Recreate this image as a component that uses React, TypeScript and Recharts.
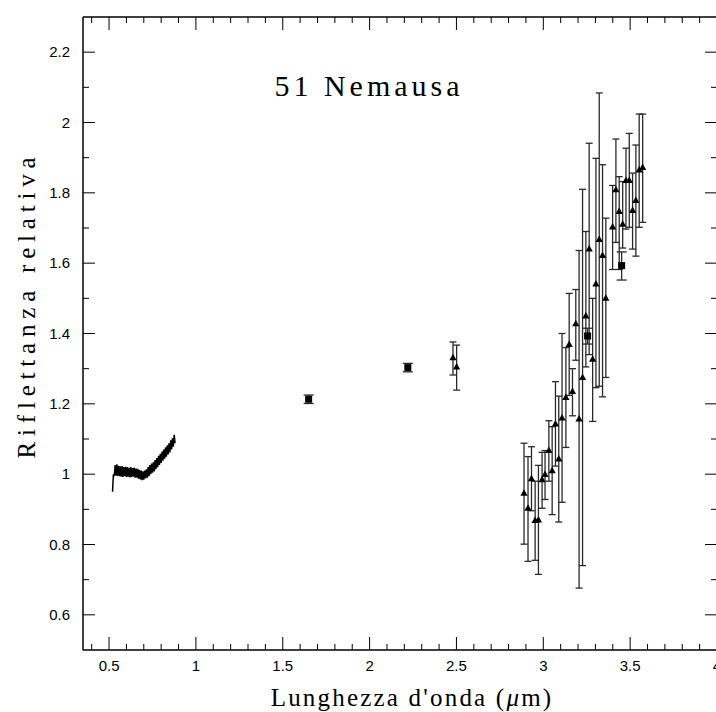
import React from "react";
import { ComposedChart, ErrorBar, Line, Scatter, XAxis, YAxis } from "recharts";

// visible spectrum (noisy trace)
const SPEC_X = [
  0.52, 0.525, 0.53, 0.535, 0.54, 0.545, 0.55, 0.555, 0.56, 0.565, 0.57, 0.575, 0.58, 0.585, 0.59, 0.595,
  0.6, 0.605, 0.61, 0.615, 0.62, 0.625, 0.63, 0.635, 0.64, 0.645, 0.65, 0.655, 0.66, 0.665, 0.67, 0.675,
  0.68, 0.685, 0.69, 0.695, 0.7, 0.705, 0.71, 0.715, 0.72, 0.725, 0.73, 0.735, 0.74, 0.745, 0.75, 0.755,
  0.76, 0.765, 0.77, 0.775, 0.78, 0.785, 0.79, 0.795, 0.8, 0.805, 0.81, 0.815, 0.82, 0.825, 0.83, 0.835,
  0.84, 0.845, 0.85, 0.855, 0.86, 0.865, 0.87, 0.875, 0.88,
];
const SPEC_Y = [
  0.95, 1.0, 0.994, 1.026, 0.996, 1.028, 0.995, 1.024, 0.994, 1.022, 0.993, 1.023, 0.992, 1.02, 0.994, 1.021,
  0.992, 1.02, 0.993, 1.018, 0.991, 1.02, 0.992, 1.017, 0.993, 1.018, 0.99, 1.016, 0.99, 1.015, 0.987, 1.012,
  0.985, 1.01, 0.983, 1.008, 0.984, 1.01, 0.988, 1.014, 0.99, 1.02, 0.994, 1.026, 1.0, 1.03, 1.004, 1.034,
  1.008, 1.04, 1.014, 1.046, 1.02, 1.052, 1.026, 1.058, 1.032, 1.064, 1.038, 1.07, 1.044, 1.076, 1.05, 1.082,
  1.056, 1.088, 1.062, 1.096, 1.07, 1.102, 1.078, 1.112, 1.088,
];

// triangles with error bars
const TRI_X = [
  2.48, 2.501, 2.889, 2.912, 2.932, 2.953, 2.972, 2.993, 3.01, 3.032, 3.051, 3.07, 3.089, 3.108, 3.13,
  3.149, 3.168, 3.187, 3.206, 3.226, 3.245, 3.264, 3.284, 3.303, 3.322, 3.341, 3.36, 3.399, 3.418, 3.437,
  3.457, 3.476, 3.495, 3.514, 3.533, 3.552, 3.572,
];
const TRI_Y = [
  1.331, 1.305, 0.946, 0.903, 0.987, 0.868, 0.87, 0.984, 0.999, 1.067, 1.01, 1.143, 1.043, 1.16, 1.218,
  1.369, 1.235, 1.428, 1.157, 1.275, 1.45, 1.64, 1.327, 1.541, 1.667, 1.622, 1.5, 1.703, 1.809, 1.747,
  1.711, 1.835, 1.835, 1.75, 1.778, 1.865, 1.872,
];
const TRI_LO = [
  1.282, 1.239, 0.801, 0.752, 0.896, 0.755, 0.715, 0.903, 0.928, 0.98, 0.885, 1.023, 0.864, 0.92, 1.076,
  1.224, 1.166, 1.324, 0.676, 0.74, 1.305, 1.34, 1.15, 1.246, 1.25, 1.22, 1.275, 1.582, 1.659, 1.582,
  1.643, 1.697, 1.702, 1.64, 1.62, 1.702, 1.716,
];
const TRI_HI = [
  1.376, 1.367, 1.088, 1.05, 1.078, 0.98, 1.025, 1.062, 1.067, 1.152, 1.135, 1.263, 1.222, 1.4, 1.36,
  1.514, 1.3, 1.525, 1.636, 1.81, 1.69, 1.941, 1.5, 1.898, 2.084, 1.88, 1.728, 1.821, 1.953, 1.846,
  1.832, 1.927, 1.969, 1.856, 1.936, 2.024, 2.024,
];

// squares with error bars
const SQ_X = [1.649, 2.22, 3.255, 3.451];
const SQ_Y = [1.213, 1.303, 1.393, 1.593];
const SQ_LO = [1.201, 1.291, 1.37, 1.552];
const SQ_HI = [1.225, 1.315, 1.415, 1.632];

const X_TICKS = [
  0.4, 0.5, 0.6, 0.7, 0.8, 0.9, 1.0, 1.1, 1.2, 1.3, 1.4, 1.5, 1.6, 1.7, 1.8, 1.9, 2.0, 2.1, 2.2, 2.3, 2.4,
  2.5, 2.6, 2.7, 2.8, 2.9, 3.0, 3.1, 3.2, 3.3, 3.4, 3.5, 3.6, 3.7, 3.8, 3.9, 4.0,
];
const Y_TICKS = [
  0.6, 0.7, 0.8, 0.9, 1.0, 1.1, 1.2, 1.3, 1.4, 1.5, 1.6, 1.7, 1.8, 1.9, 2.0, 2.1, 2.2,
];

const spec = SPEC_X.map((x, i) => ({ x, y: SPEC_Y[i] }));
const tri = TRI_X.map((x, i) => ({ x, y: TRI_Y[i], err: [TRI_Y[i] - TRI_LO[i], TRI_HI[i] - TRI_Y[i]] }));
const sq = SQ_X.map((x, i) => ({ x, y: SQ_Y[i], err: [SQ_Y[i] - SQ_LO[i], SQ_HI[i] - SQ_Y[i]] }));

const TICK_FONT = "'Liberation Sans', Arial, sans-serif";
const SERIF = "'Liberation Serif', 'DejaVu Serif', serif";

const isMajorX = (v: number) => Math.abs(v * 2 - Math.round(v * 2)) < 1e-6;
const isMajorY = (v: number) => Math.abs(v * 5 - Math.round(v * 5)) < 1e-6;
const fmt = (v: number) => String(Number(v.toFixed(1)));

function BottomTick(p: any) {
  const v = p.payload.value;
  const major = isMajorX(v);
  return (
    <g>
      <line x1={p.x} x2={p.x} y1={p.y} y2={p.y - (major ? 13 : 6)} stroke="#000" />
      {major ? (
        <text x={p.x} y={p.y + 21} textAnchor="middle" fontSize={15} fontFamily={TICK_FONT} fill="#000">
          {fmt(v)}
        </text>
      ) : null}
    </g>
  );
}

function TopTick(p: any) {
  const major = isMajorX(p.payload.value);
  return <line x1={p.x} x2={p.x} y1={p.y} y2={p.y + (major ? 13 : 6)} stroke="#000" />;
}

function LeftTick(p: any) {
  const v = p.payload.value;
  const major = isMajorY(v);
  return (
    <g>
      <line x1={p.x} x2={p.x + (major ? 12 : 6)} y1={p.y} y2={p.y} stroke="#000" />
      {major ? (
        <text x={p.x - 13} y={p.y + 5} textAnchor="end" fontSize={15} fontFamily={TICK_FONT} fill="#000">
          {fmt(v)}
        </text>
      ) : null}
    </g>
  );
}

function RightTick(p: any) {
  const major = isMajorY(p.payload.value);
  return <line x1={p.x} x2={p.x - (major ? 12 : 6)} y1={p.y} y2={p.y} stroke="#000" />;
}

function Triangle(p: any) {
  const { cx, cy } = p;
  if (cx == null || cy == null) return <g />;
  return <polygon points={`${cx},${cy - 4} ${cx - 3.6},${cy + 2.5} ${cx + 3.6},${cy + 2.5}`} fill="#000" />;
}

function Square(p: any) {
  const { cx, cy } = p;
  if (cx == null || cy == null) return <g />;
  return <rect x={cx - 3.5} y={cy - 3.5} width={7} height={7} fill="#000" />;
}

const axisLine = { stroke: "#000", strokeWidth: 1.5 };

export default function App() {
  return (
    <div style={{ position: "absolute", left: 0, top: 0, width: 716, height: 712, overflow: "hidden", background: "#fff" }}>
      <ComposedChart width={720} height={712} margin={{ top: 16, right: 2, bottom: 61, left: 82 }}>
        <XAxis
          dataKey="x"
          type="number"
          domain={[0.35, 4]}
          ticks={X_TICKS}
          interval={0}
          height={1}
          tickSize={0}
          tickMargin={0}
          tickLine={false}
          tick={BottomTick}
          axisLine={axisLine}
          allowDataOverflow
        />
        <XAxis
          xAxisId="top"
          orientation="top"
          dataKey="x"
          type="number"
          domain={[0.35, 4]}
          ticks={X_TICKS}
          interval={0}
          height={1}
          tickSize={0}
          tickMargin={0}
          tickLine={false}
          tick={TopTick}
          axisLine={axisLine}
          allowDataOverflow
        />
        <YAxis
          type="number"
          domain={[0.5, 2.3]}
          ticks={Y_TICKS}
          interval={0}
          width={1}
          tickSize={0}
          tickMargin={0}
          tickLine={false}
          tick={LeftTick}
          axisLine={axisLine}
          allowDataOverflow
        />
        <YAxis
          yAxisId="right"
          orientation="right"
          type="number"
          domain={[0.5, 2.3]}
          ticks={Y_TICKS}
          interval={0}
          width={1}
          tickSize={0}
          tickMargin={0}
          tickLine={false}
          tick={RightTick}
          axisLine={axisLine}
          allowDataOverflow
        />
        <Line
          data={spec}
          dataKey="y"
          type="linear"
          stroke="#000"
          strokeWidth={1.5}
          dot={false}
          isAnimationActive={false}
        />
        <Scatter data={tri} dataKey="y" shape={Triangle} isAnimationActive={false}>
          <ErrorBar dataKey="err" direction="y" width={3.5} stroke="#2a2a2a" strokeWidth={1.3} isAnimationActive={false} />
        </Scatter>
        <Scatter data={sq} dataKey="y" shape={Square} isAnimationActive={false}>
          <ErrorBar dataKey="err" direction="y" width={5} stroke="#2a2a2a" strokeWidth={1.3} isAnimationActive={false} />
        </Scatter>
      </ComposedChart>
      <svg
        width={716}
        height={712}
        style={{ position: "absolute", left: 0, top: 0, pointerEvents: "none" }}
      >
        <text x={369} y={96} textAnchor="middle" fontSize={30} letterSpacing={4} fontFamily={SERIF} fill="#000">
          51 Nemausa
        </text>
        <text x={412} y={706} textAnchor="middle" fontSize={25} letterSpacing={2.2} fontFamily={SERIF} fill="#000">
          Lunghezza d'onda (<tspan fontStyle="italic">μ</tspan>m)
        </text>
        <text
          x={0}
          y={0}
          transform="translate(35,305) rotate(-90)"
          textAnchor="middle"
          fontSize={25}
          letterSpacing={5.8}
          fontFamily={SERIF}
          fill="#000"
        >
          Riflettanza relativa
        </text>
      </svg>
    </div>
  );
}
